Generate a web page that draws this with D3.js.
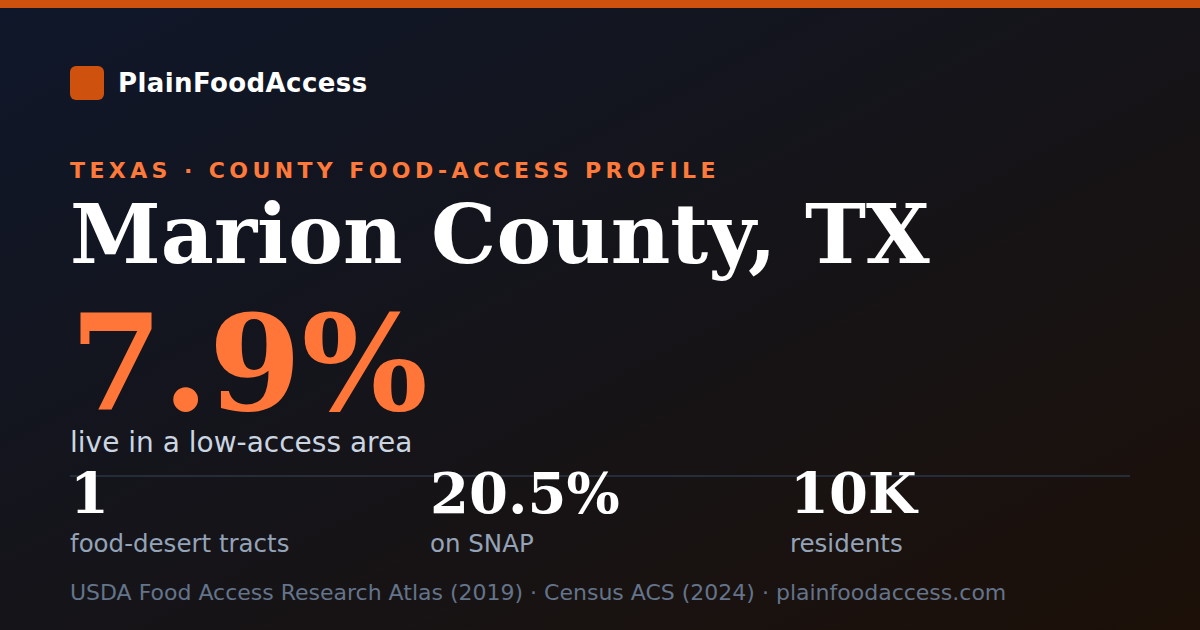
<!DOCTYPE html>
<html>
<head>
<meta charset="utf-8">
<script src="https://cdn.jsdelivr.net/npm/d3@7"></script>
<style>
  html, body { margin: 0; padding: 0; background: #111; }
  svg { display: block; }
</style>
</head>
<body>
<div id="card"></div>
<script>
// card content
const BRAND = "PlainFoodAccess";
const KICKER = "TEXAS · COUNTY FOOD-ACCESS PROFILE";
const PLACE = "Marion County, TX";
const HEADLINE_VALUE = "7.9%";
const HEADLINE_LABEL = "live in a low-access area";
const STAT_VALUES = ["1", "20.5%", "10K"];
const STAT_LABELS = ["food-desert tracts", "on SNAP", "residents"];
const SOURCE = "USDA Food Access Research Atlas (2019) · Census ACS (2024) · plainfoodaccess.com";

const width = 1200, height = 630;
const left = 70;
const serif = "'DejaVu Serif', serif";
const sans = "'DejaVu Sans', sans-serif";

var svg = d3.select("#card")
  .append("svg")
  .attr("width", width)
  .attr("height", height);

var defs = svg.append("defs");
var grad = defs.append("linearGradient")
  .attr("id", "bg")
  .attr("x1", "0").attr("y1", "0")
  .attr("x2", "1").attr("y2", "1");
grad.append("stop").attr("offset", "0").attr("stop-color", "#0f172a");
grad.append("stop").attr("offset", "0.5").attr("stop-color", "#151419");
grad.append("stop").attr("offset", "1").attr("stop-color", "#1c1008");

svg.append("rect")
  .attr("width", width)
  .attr("height", height)
  .attr("fill", "url(#bg)");

// top accent bar
svg.append("rect")
  .attr("width", width)
  .attr("height", 8)
  .attr("fill", "#cf510e");

// brand
svg.append("rect")
  .attr("x", left).attr("y", 66)
  .attr("width", 34).attr("height", 34)
  .attr("rx", 6)
  .attr("fill", "#cf510e");

svg.append("text")
  .attr("x", 118).attr("y", 92)
  .text(BRAND)
  .style("font-family", sans)
  .style("font-weight", "bold")
  .style("font-size", "26px")
  .style("letter-spacing", "0.4px")
  .style("fill", "#ffffff");

svg.append("text")
  .attr("x", left).attr("y", 178)
  .text(KICKER)
  .style("font-family", sans)
  .style("font-weight", "bold")
  .style("font-size", "22px")
  .style("letter-spacing", "4.4px")
  .style("fill", "#ff7a3a");

svg.append("text")
  .attr("x", left).attr("y", 263)
  .text(PLACE)
  .style("font-family", serif)
  .style("font-weight", "bold")
  .style("font-size", "82px")
  .style("fill", "#ffffff");

svg.append("text")
  .attr("x", left).attr("y", 410)
  .text(HEADLINE_VALUE)
  .style("font-family", serif)
  .style("font-weight", "bold")
  .style("font-size", "133px")
  .style("fill", "#ff7638");

svg.append("text")
  .attr("x", left).attr("y", 452)
  .text(HEADLINE_LABEL)
  .style("font-family", sans)
  .style("font-size", "28px")
  .style("fill", "#cbd5e1");

// divider
svg.append("line")
  .attr("x1", left).attr("x2", 1130)
  .attr("y1", 476).attr("y2", 476)
  .attr("stroke", "#272d38")
  .attr("stroke-width", 2);

// stat columns
var x = d3.scaleBand()
  .domain(d3.range(STAT_VALUES.length))
  .range([left, left + 360 * STAT_VALUES.length]);

var stats = svg.append("g").selectAll("g")
  .data(STAT_VALUES)
  .enter()
  .append("g")
  .attr("transform", function(d, i) { return "translate(" + x(i) + ",0)"; });

stats.append("text")
  .attr("y", 513)
  .text(function(d) { return d; })
  .style("font-family", serif)
  .style("font-weight", "bold")
  .style("font-size", "56px")
  .style("fill", "#ffffff");

stats.append("text")
  .attr("y", 552)
  .text(function(d, i) { return STAT_LABELS[i]; })
  .style("font-family", sans)
  .style("font-size", "24.5px")
  .style("fill", "#94a3b8");

svg.append("text")
  .attr("x", left).attr("y", 600)
  .text(SOURCE)
  .style("font-family", sans)
  .style("font-size", "22px")
  .style("fill", "#64748b");
</script>
</body>
</html>
